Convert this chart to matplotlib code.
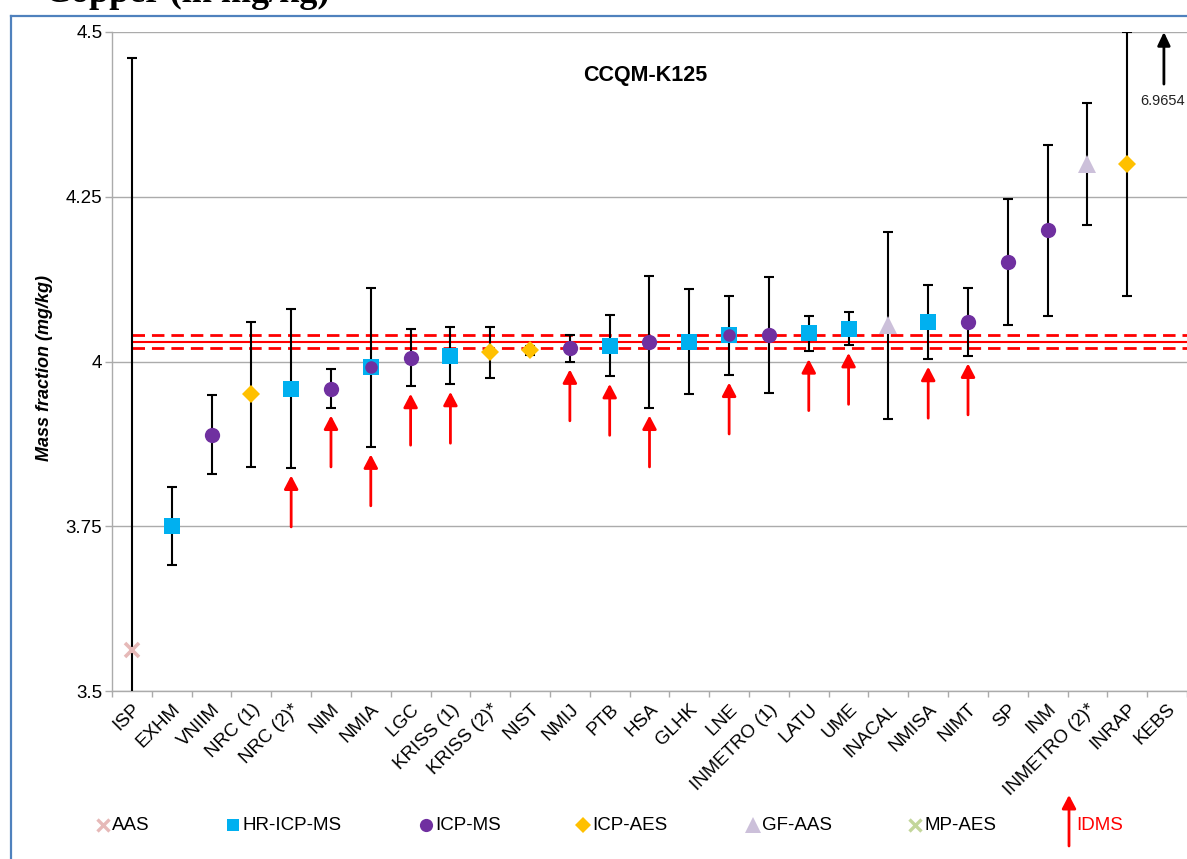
import matplotlib
matplotlib.use("Agg")
import matplotlib.pyplot as plt
from matplotlib.lines import Line2D
from matplotlib.patches import FancyArrowPatch
import numpy as np

plt.rcParams['font.family'] = ['Liberation Sans', 'DejaVu Sans']

# ---------------- data ----------------
labs = ["ISP", "EXHM", "VNIIM", "NRC (1)", "NRC (2)*", "NIM", "NMIA", "LGC",
        "KRISS (1)", "KRISS (2)*", "NIST", "NMIJ", "PTB", "HSA", "GLHK", "LNE",
        "INMETRO (1)", "LATU", "UME", "INACAL", "NMISA", "NIMT", "SP", "INM",
        "INMETRO (2)*", "INRAP", "KEBS"]
values = [3.562, 3.750, 3.889, 3.950, 3.959, 3.959, 3.991, 4.006,
          4.009, 4.014, 4.017, 4.020, 4.024, 4.030, 4.030, 4.040,
          4.040, 4.0425, 4.050, 4.055, 4.060, 4.060, 4.151, 4.199,
          4.300, 4.300, 6.9654]
uncert = [0.898, 0.059, 0.060, 0.110, 0.120, 0.029, 0.120, 0.043,
          0.043, 0.039, 0.007, 0.020, 0.046, 0.100, 0.080, 0.060,
          0.088, 0.027, 0.025, 0.142, 0.056, 0.051, 0.095, 0.130,
          0.093, 0.200, np.nan]
methods = ["AAS", "HR-ICP-MS", "ICP-MS", "ICP-AES", "HR-ICP-MS", "ICP-MS",
           "HR-ICP-MS+ICP-MS", "ICP-MS", "HR-ICP-MS", "ICP-AES", "ICP-AES",
           "ICP-MS", "HR-ICP-MS", "ICP-MS", "HR-ICP-MS", "HR-ICP-MS+ICP-MS",
           "ICP-MS", "HR-ICP-MS", "HR-ICP-MS", "GF-AAS", "HR-ICP-MS", "ICP-MS",
           "ICP-MS", "ICP-MS", "GF-AAS", "ICP-AES", "MP-AES"]
idms = [0, 0, 0, 0, 1, 1, 1, 1, 1, 0, 0, 1, 1, 1, 0, 1, 0, 1, 1, 0, 1, 1,
        0, 0, 0, 0, 0]
kcrv = 4.030
kcrv_u = 0.010
yticks = [3.5, 3.75, 4.0, 4.25, 4.5]
legend_order = ["AAS", "HR-ICP-MS", "ICP-MS", "ICP-AES", "GF-AAS", "MP-AES"]

# ---------------- styles ----------------
style = {
    "AAS":       dict(marker="x", color="#E6B9B8", ms=10, mew=2.6),
    "HR-ICP-MS": dict(marker="s", color="#00B0F0", ms=11, mew=0),
    "ICP-MS":    dict(marker="o", color="#7030A0", ms=11, mew=0),
    "ICP-AES":   dict(marker="D", color="#FFC000", ms=9.5, mew=0),
    "GF-AAS":    dict(marker="^", color="#CCC0DA", ms=12.5, mew=0),
    "MP-AES":    dict(marker="x", color="#C3D69B", ms=10, mew=2.6),
}
legend_style = {
    "AAS":       dict(ms=8.5, mew=2.4),
    "HR-ICP-MS": dict(ms=9),
    "ICP-MS":    dict(ms=9.5),
    "ICP-AES":   dict(ms=8),
    "GF-AAS":    dict(ms=11),
    "MP-AES":    dict(ms=8.5, mew=2.4),
}

W, H = 1187, 859
fig = plt.figure(figsize=(W / 100, H / 100), dpi=100)


def fx(px):
    return px / W


def fy(py):
    return 1 - py / H


ax = fig.add_axes([fx(112), fy(691), fx(1187) - fx(112), fy(32) - fy(691)])
x = np.arange(len(labs))
ax.set_xlim(-0.5, len(labs) - 0.5)
ax.set_ylim(yticks[0], yticks[-1])

# grid / spines
ax.set_yticks(yticks)
ax.set_yticklabels(["{:g}".format(t) for t in yticks])
ax.yaxis.grid(True, color="#ABABAB", lw=1.0, zorder=0)
ax.set_axisbelow(True)
for s in ["top", "right"]:
    ax.spines[s].set_visible(False)
for s in ["left", "bottom"]:
    ax.spines[s].set_color("#ABABAB")
    ax.spines[s].set_linewidth(1.0)

ax.tick_params(axis="y", length=5, width=1, color="#ABABAB", pad=2,
               labelsize=13.5)
ax.set_xticks(x)
ax.set_xticks(np.arange(-0.5, len(labs)), minor=True)
ax.tick_params(axis="x", which="major", length=0, pad=7, labelsize=13.5)
ax.tick_params(axis="x", which="minor", length=4, width=1, color="#ABABAB")
ax.set_xticklabels(labs, rotation=45, ha="right", va="top",
                   rotation_mode="anchor")

# KCRV lines
ax.hlines(kcrv, x[0], len(labs) - 0.5, color="red", lw=1.5, zorder=3)
for sgn in (-1, 1):
    ax.hlines(kcrv + sgn * kcrv_u, x[0], len(labs) - 0.5, color="red",
              lw=2.0, linestyles=(0, (4.5, 2.5)), zorder=3)

# error bars
vals = np.array(values)
unc = np.array(uncert)
vis = vals < yticks[-1] + 1
ax.errorbar(x[vis], vals[vis], yerr=unc[vis], fmt="none", ecolor="black",
            elinewidth=1.5, capsize=3.8, capthick=1.5, zorder=4)

# markers per method
for m in legend_order:
    idx = [i for i, mm in enumerate(methods) if m in mm.split("+") and vis[i]]
    if not idx:
        continue
    st = dict(style[m])
    xs = np.array(idx)
    ys = vals[idx]
    if m == "ICP-MS":
        single = [i for i in idx if "+" not in methods[i]]
        both = [i for i in idx if "+" in methods[i]]
        ax.plot(single, vals[single], ls="none", marker=st["marker"],
                color=st["color"], ms=st["ms"], mew=st["mew"], zorder=6)
        ax.plot(both, vals[both], ls="none", marker=st["marker"],
                color=st["color"], ms=st["ms"] * 0.82, mew=st["mew"], zorder=7)
    else:
        ax.plot(xs, ys, ls="none", marker=st["marker"], color=st["color"],
                ms=st["ms"], mew=st["mew"], zorder=6)

# IDMS arrows
gap, alen = 0.012, 0.078
for i, flag in enumerate(idms):
    if flag:
        tip = values[i] - uncert[i] - gap
        ax.annotate("", xy=(i, tip), xytext=(i, tip - alen),
                    arrowprops=dict(arrowstyle="-|>,head_width=0.42,head_length=0.8",
                                    color="red", lw=2.0, mutation_scale=10,
                                    shrinkA=0, shrinkB=0), zorder=5)

# off-scale value (KEBS)
for i in np.where(~vis)[0]:
    ax.annotate("", xy=(i - 0.08, 1.0), xycoords=("data", "axes fraction"),
                xytext=(0, -37.5), textcoords="offset points",
                arrowprops=dict(arrowstyle="-|>,head_width=0.38,head_length=0.8",
                                color="black", lw=2.0, mutation_scale=10,
                                shrinkA=0, shrinkB=0), annotation_clip=False)
    ax.annotate("{:.4f}".format(values[i]), xy=(i - 0.08, 1.0),
                xycoords=("data", "axes fraction"), xytext=(-1, -50),
                textcoords="offset points", ha="center", va="center",
                fontsize=10.5, color="#222222", annotation_clip=False)

# title and axis label
fig.text(fx(645), fy(76), "CCQM-K125", ha="center", va="center",
         fontsize=15.5, fontweight="bold")
fig.text(fx(45), fy(368), "Mass fraction (mg/kg)", rotation=90,
         ha="center", va="center", fontsize=13, fontweight="bold",
         fontstyle="italic")

# heading of the page, cropped at the top edge as in the reference
fig.text(fx(45), fy(2), "Copper (in mg/kg)", ha="left", va="baseline",
         fontsize=26, fontweight="bold", family=["Liberation Serif"])

# legend
leg_x = [103, 233, 426, 583, 753, 915]
leg_y = 825
for m, lx in zip(legend_order, leg_x):
    st = dict(style[m])
    st.update(legend_style[m])
    fig.add_artist(Line2D([fx(lx)], [fy(leg_y)], transform=fig.transFigure,
                          ls="none", marker=st["marker"], color=st["color"],
                          ms=st["ms"], mew=st.get("mew", 0)))
    fig.text(fx(lx + 9), fy(leg_y), m, ha="left", va="center",
             fontsize=13.5)
fig.add_artist(FancyArrowPatch((fx(1069), fy(846)), (fx(1069), fy(795)),
                               transform=fig.transFigure,
                               arrowstyle="-|>,head_width=0.42,head_length=0.8",
                               color="red", lw=2.0, mutation_scale=10,
                               shrinkA=0, shrinkB=0))
fig.text(fx(1076), fy(leg_y), "IDMS", ha="left", va="center", fontsize=13.5,
         color="red")

# blue frame
frame_c = "#4F81BD"
fig.add_artist(Line2D([fx(10.7), fx(10.7)], [fy(16), fy(859)],
                      transform=fig.transFigure, color=frame_c, lw=1.6))
fig.add_artist(Line2D([fx(10.7), fx(1187)], [fy(16), fy(16)],
                      transform=fig.transFigure, color=frame_c, lw=1.6))

fig.savefig("out.png", dpi=100)
